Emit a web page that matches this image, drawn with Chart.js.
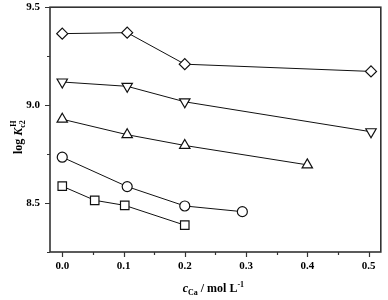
<!DOCTYPE html>
<html>
<head>
<meta charset="UTF-8">
<title>log Kc2 vs cCa</title>
<script src="https://cdn.jsdelivr.net/npm/chart.js@4"></script>
<style>
  html, body { margin: 0; padding: 0; background: #fff; }
  #wrap { width: 388px; height: 300px; }
</style>
</head>
<body>
<div id="wrap"><canvas id="chart" width="388" height="300"></canvas></div>
<script>
// values
const sqX = [0, 0.053, 0.102, 0.2];
const sqY = [8.586, 8.514, 8.488, 8.387];
const ciX = [0, 0.106, 0.2, 0.294];
const ciY = [8.734, 8.584, 8.485, 8.456];
const trX = [0, 0.106, 0.2, 0.4];
const trY = [8.928, 8.849, 8.794, 8.695];
const tdX = [0, 0.106, 0.2, 0.504];
const tdY = [9.118, 9.096, 9.017, 8.864];
const diX = [0, 0.106, 0.2, 0.504];
const diY = [9.365, 9.370, 9.209, 9.172];

// axis ticks
const xMin = -0.02, xMax = 0.52, xStep = 0.05, xMajor = 0.1;
const yMin = 8.25, yMax = 9.5, yStep = 0.25, yMajor = 0.5;

const FONT = '"Liberation Serif", "Times New Roman", serif';

function pts(xs, ys) { return xs.map((x, i) => ({ x: x, y: ys[i] })); }
function isMajor(v, m) { const r = v / m; return Math.abs(r - Math.round(r)) < 1e-6; }

function series(xs, ys, style, radius, rot) {
  return {
    data: pts(xs, ys),
    showLine: true,
    borderColor: '#111',
    borderWidth: 1,
    pointStyle: style,
    pointRadius: radius,
    pointRotation: rot || 0,
    pointBackgroundColor: '#fff',
    pointBorderColor: '#111',
    pointBorderWidth: 1.2
  };
}

// frame, tick marks and axis titles (sub/superscripts)
const framePlugin = {
  id: 'frame',
  afterDraw(chart) {
    const ctx = chart.ctx, a = chart.chartArea;
    const sx = chart.scales.x, sy = chart.scales.y;
    ctx.save();
    ctx.strokeStyle = '#333';
    ctx.lineWidth = 1.2;
    ctx.beginPath();
    sx.ticks.forEach(t => {
      const px = Math.round(sx.getPixelForValue(t.value)) + 0.5;
      ctx.moveTo(px, a.bottom);
      ctx.lineTo(px, a.bottom + (isMajor(t.value, xMajor) ? 5 : 3));
    });
    sy.ticks.forEach(t => {
      const py = Math.round(sy.getPixelForValue(t.value)) + 0.5;
      ctx.moveTo(a.left, py);
      ctx.lineTo(a.left - (isMajor(t.value, yMajor) ? 5 : 3), py);
    });
    ctx.stroke();
    ctx.lineWidth = 1.6;
    ctx.strokeRect(a.left, a.top, a.right - a.left, a.bottom - a.top);

    ctx.fillStyle = '#000';
    ctx.textBaseline = 'alphabetic';
    ctx.textAlign = 'left';

    // x title: c_Ca / mol L^-1
    const xp = [
      { t: 'c', f: 'italic bold 12px ' + FONT, dy: 0 },
      { t: 'Ca', f: 'bold 8px ' + FONT, dy: 3 },
      { t: ' / mol L', f: 'bold 12px ' + FONT, dy: 0 },
      { t: '-1', f: 'bold 8px ' + FONT, dy: -5 }
    ];
    let w = 0;
    xp.forEach(p => { ctx.font = p.f; p.w = ctx.measureText(p.t).width; w += p.w; });
    let cx = (a.left + a.right) / 2 - 2 - w / 2;
    xp.forEach(p => { ctx.font = p.f; ctx.fillText(p.t, cx, 292 + p.dy); cx += p.w; });

    // y title: log K^H_c2
    ctx.translate(22, (a.top + a.bottom) / 2 + 7);
    ctx.rotate(-Math.PI / 2);
    const main = [
      { t: 'log ', f: 'bold 12px ' + FONT },
      { t: 'K', f: 'italic bold 12px ' + FONT }
    ];
    const subF = 'bold 8px ' + FONT;
    let tw = 0;
    main.forEach(p => { ctx.font = p.f; p.w = ctx.measureText(p.t).width; tw += p.w; });
    ctx.font = subF;
    const sw = Math.max(ctx.measureText('H').width, ctx.measureText('c2').width);
    let ty = -(tw + sw + 1) / 2;
    main.forEach(p => { ctx.font = p.f; ctx.fillText(p.t, ty, 0); ty += p.w; });
    ctx.font = subF;
    ctx.fillText('H', ty + 1, -6);
    ctx.fillText('c2', ty, 3);
    ctx.restore();
  }
};

new Chart(document.getElementById('chart'), {
  type: 'scatter',
  data: {
    datasets: [
      series(sqX, sqY, 'rect', 6),
      series(ciX, ciY, 'circle', 5),
      series(trX, trY, 'triangle', 6),
      series(tdX, tdY, 'triangle', 6, 180),
      series(diX, diY, 'rectRot', 5.5)
    ]
  },
  options: {
    responsive: false,
    animation: false,
    layout: { padding: { top: 5, right: 1, left: 0, bottom: 0 } },
    plugins: { legend: { display: false }, tooltip: { enabled: false } },
    scales: {
      x: {
        type: 'linear', min: xMin, max: xMax,
        border: { display: false },
        grid: { drawOnChartArea: false, drawTicks: true, tickLength: 5, color: 'transparent' },
        ticks: {
          stepSize: xStep, includeBounds: false, autoSkip: false, maxRotation: 0,
          padding: 3, color: '#000',
          font: { family: FONT, size: 11, weight: 'bold' },
          callback: v => isMajor(v, xMajor) ? v.toFixed(1) : ''
        },
        afterFit(s) { s.height = 48; s.paddingLeft = 0; s.paddingRight = 0; }
      },
      y: {
        type: 'linear', min: yMin, max: yMax,
        border: { display: false },
        grid: { drawOnChartArea: false, drawTicks: true, tickLength: 5, color: 'transparent' },
        ticks: {
          stepSize: yStep, includeBounds: false, autoSkip: false,
          padding: 5, color: '#000',
          font: { family: FONT, size: 11, weight: 'bold' },
          callback: v => isMajor(v, yMajor) ? v.toFixed(1) : ''
        },
        afterFit(s) { s.width = 50; s.paddingTop = 0; s.paddingBottom = 0; }
      }
    }
  },
  plugins: [framePlugin]
});
</script>
</body>
</html>
